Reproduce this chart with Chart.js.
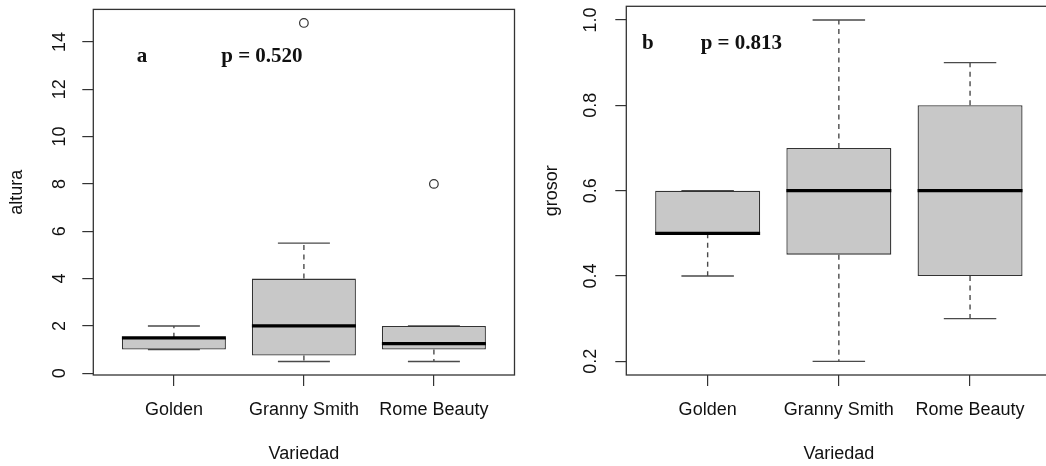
<!DOCTYPE html>
<html>
<head>
<meta charset="utf-8">
<script src="https://cdn.jsdelivr.net/npm/chart.js@4.4.1/dist/chart.umd.min.js"></script>
<style>
html, body { margin: 0; padding: 0; background: #fff; overflow: hidden; width: 1046px; height: 466px; }
canvas { position: absolute; top: 0; }
#chart-a { left: 0; }
#chart-b { left: 520px; }
</style>
</head>
<body>
<canvas id="chart-a" width="520" height="466"></canvas>
<canvas id="chart-b" width="532" height="466"></canvas>
<script>
const categories = ['Golden', 'Granny Smith', 'Rome Beauty'];

// panel a: altura
const alturaMin = [1, 0.5, 0.5];
const alturaQ1 = [1, 0.75, 1];
const alturaMedian = [1.5, 2, 1.25];
const alturaQ3 = [1.5, 4, 2];
const alturaMax = [2, 5.5, 2];
const alturaOutliers = [[], [14.8], [8]];
const alturaTicks = [0, 2, 4, 6, 8, 10, 12, 14];
const alturaTickLabels = ['0', '2', '4', '6', '8', '10', '12', '14'];

// panel b: grosor
const grosorMin = [0.4, 0.2, 0.3];
const grosorQ1 = [0.5, 0.45, 0.4];
const grosorMedian = [0.5, 0.6, 0.6];
const grosorQ3 = [0.6, 0.7, 0.8];
const grosorMax = [0.6, 1.0, 0.9];
const grosorOutliers = [[], [], []];
const grosorTicks = [0.2, 0.4, 0.6, 0.8, 1.0];
const grosorTickLabels = ['0.2', '0.4', '0.6', '0.8', '1.0'];

const SANS = "'Liberation Sans', Arial, sans-serif";
const SERIF = "'Liberation Serif', 'Times New Roman', serif";
const INK = '#333';
const WHISKER = '#4a4a4a';

// line segments joined with gaps so one dataset can hold many of them
const segs = (list) => {
  const pts = [];
  list.forEach(([x0, y0, x1, y1]) => {
    pts.push({x: x0, y: y0}, {x: x1, y: y1}, {x: x1, y: null});
  });
  return pts;
};

// R style frame around the plot region
const framePlugin = {
  id: 'frame',
  afterDraw(chart) {
    const {ctx, chartArea: a} = chart;
    ctx.save();
    ctx.strokeStyle = INK;
    ctx.lineWidth = 1.3;
    ctx.strokeRect(a.left, a.top, a.right - a.left, a.bottom - a.top);
    ctx.restore();
  }
};

const notesPlugin = {
  id: 'notes',
  afterDraw(chart, args, opts) {
    const {ctx, scales: {x, y}} = chart;
    ctx.save();
    ctx.fillStyle = '#111';
    ctx.font = 'bold 21px ' + SERIF;
    ctx.textAlign = 'center';
    ctx.textBaseline = 'alphabetic';
    opts.items.forEach(n => {
      ctx.fillText(n.text, x.getPixelForValue(n.x), y.getPixelForValue(n.y));
    });
    ctx.restore();
  }
};

const makeBoxplot = (id, s) => {
  const all = [...s.min, ...s.max, ...s.outliers.flat()];
  const lo = Math.min(...all), hi = Math.max(...all);
  const pad = (hi - lo) * 0.04;

  const whiskers = [], caps = [], medians = [], outPts = [];
  categories.forEach((c, i) => {
    const x = i + 1;
    whiskers.push([x, s.q3[i], x, s.max[i]], [x, s.q1[i], x, s.min[i]]);
    caps.push([x - 0.2, s.max[i], x + 0.2, s.max[i]], [x - 0.2, s.min[i], x + 0.2, s.min[i]]);
    medians.push([x - 0.4, s.median[i], x + 0.4, s.median[i]]);
    s.outliers[i].forEach(v => outPts.push({x: x, y: v}));
  });

  return new Chart(document.getElementById(id), {
    type: 'line',
    data: {
      datasets: [
        {
          type: 'line', data: segs(whiskers), order: 4,
          borderColor: WHISKER, borderWidth: 1.4, borderDash: [5, 4.5],
          pointRadius: 0, spanGaps: false, tension: 0
        },
        {
          type: 'line', data: segs(caps), order: 3,
          borderColor: WHISKER, borderWidth: 1.4,
          pointRadius: 0, spanGaps: false, tension: 0
        },
        {
          type: 'bar', order: 2,
          data: categories.map((c, i) => ({x: i + 1, y: [s.q1[i], s.q3[i]]})),
          backgroundColor: '#c8c8c8', borderColor: INK, borderWidth: 1.3,
          borderSkipped: false, barPercentage: 0.8, categoryPercentage: 1
        },
        {
          type: 'line', data: segs(medians), order: 1,
          borderColor: '#000', borderWidth: 3.3, borderCapStyle: 'butt',
          pointRadius: 0, spanGaps: false, tension: 0
        },
        {
          type: 'scatter', data: outPts, order: 0,
          pointRadius: 4.3, pointBorderWidth: 1.2,
          pointBorderColor: INK, pointBackgroundColor: 'rgba(0,0,0,0)'
        }
      ]
    },
    options: {
      responsive: false,
      animation: false,
      events: [],
      layout: {padding: {top: s.top, right: s.right, left: 0, bottom: 0}},
      plugins: {
        legend: {display: false},
        tooltip: {enabled: false},
        notes: {items: s.notes}
      },
      scales: {
        x: {
          type: 'linear', min: 0.38, max: 3.62, offset: false,
          afterBuildTicks: (sc) => { sc.ticks = categories.map((c, i) => ({value: i + 1})); },
          afterFit: (sc) => {
            sc.height = 91;
            sc.paddingLeft = 0; sc.paddingRight = 0;
          },
          ticks: {
            autoSkip: false, maxRotation: 0, padding: 13, color: '#111',
            font: {family: SANS, size: 18},
            callback: (v) => categories[v - 1]
          },
          grid: {drawOnChartArea: false, drawTicks: true, tickLength: 11, color: INK, lineWidth: 1.2, offset: false},
          border: {display: false},
          title: {
            display: true, text: 'Variedad', color: '#111',
            font: {family: SANS, size: 18}, padding: {top: 0, bottom: 1.5}
          }
        },
        y: {
          min: lo - pad, max: hi + pad,
          afterBuildTicks: (sc) => { sc.ticks = s.ticks.map(v => ({value: v})); },
          afterFit: (sc) => {
            sc.width = s.axisWidth;
            sc.paddingTop = 0; sc.paddingBottom = 0;
          },
          ticks: {
            autoSkip: false, minRotation: 90, maxRotation: 90, crossAlign: 'center',
            padding: 12, color: '#111', font: {family: SANS, size: 18},
            callback: (v) => s.tickLabels[s.ticks.indexOf(v)]
          },
          grid: {drawOnChartArea: false, drawTicks: true, tickLength: 11, color: INK, lineWidth: 1.2},
          border: {display: false},
          title: {
            display: true, text: s.title, color: '#111',
            font: {family: SANS, size: 18}, padding: {top: s.titlePad, bottom: 0}
          }
        }
      }
    },
    plugins: [framePlugin, notesPlugin]
  });
};

makeBoxplot('chart-a', {
  min: alturaMin, q1: alturaQ1, median: alturaMedian, q3: alturaQ3, max: alturaMax,
  outliers: alturaOutliers, ticks: alturaTicks, tickLabels: alturaTickLabels,
  title: 'altura', titlePad: 6, axisWidth: 93.3, top: 9.4, right: 3.7,
  notes: [{text: 'a', x: 0.755, y: 13.16}, {text: 'p = 0.520', x: 1.677, y: 13.16}]
});

makeBoxplot('chart-b', {
  min: grosorMin, q1: grosorQ1, median: grosorMedian, q3: grosorQ3, max: grosorMax,
  outliers: grosorOutliers, ticks: grosorTicks, tickLabels: grosorTickLabels,
  title: 'grosor', titlePad: 21, axisWidth: 106.3, top: 6.3, right: 0.6,
  notes: [{text: 'b', x: 0.545, y: 0.931}, {text: 'p = 0.813', x: 1.257, y: 0.931}]
});
</script>
</body>
</html>
